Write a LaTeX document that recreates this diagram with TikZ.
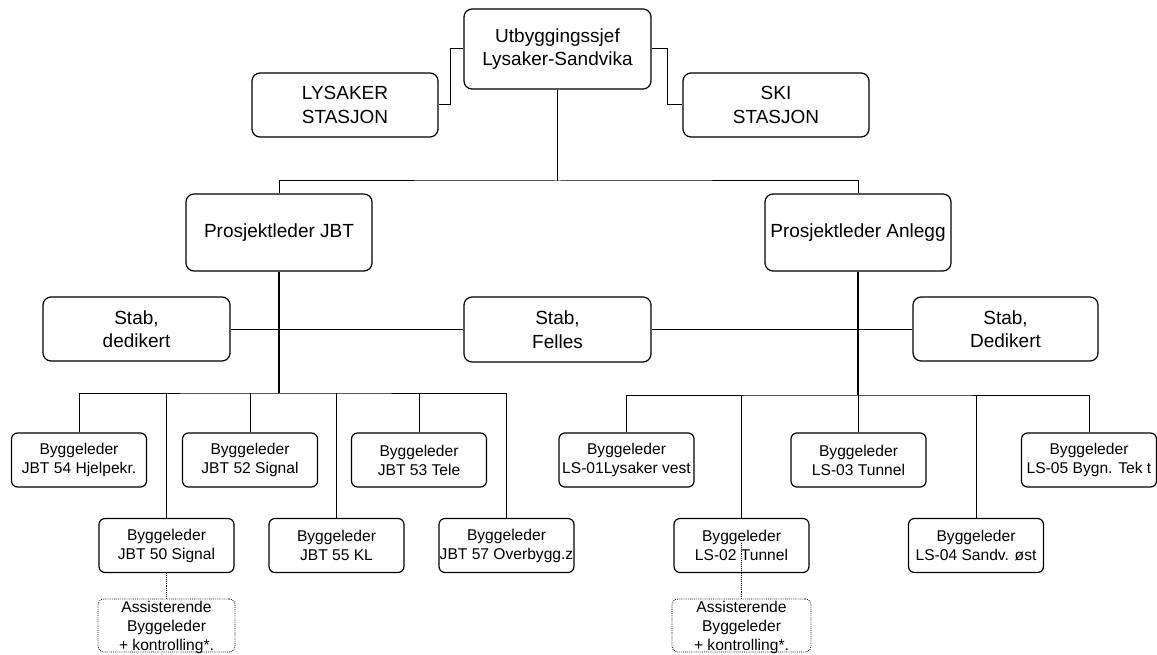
\documentclass[tikz,border=0pt]{standalone}
\usepackage{fontspec}
\setmainfont{Liberation Sans}
\begin{document}
\begin{tikzpicture}[x=1pt,y=-1pt,
  bigtext/.style={font=\fontsize{19}{23.5}\selectfont},
  smalltext/.style={font=\fontsize{15.6}{19}\selectfont},
  box/.style={draw, line width=1.2pt, rounded corners=8pt, inner sep=0pt, align=center},
  bigbox/.style={box, bigtext, minimum width=187pt},
  leader/.style={box, smalltext, rounded corners=6pt, minimum width=135pt, minimum height=54pt},
  helper/.style={box, smalltext, line width=0.8pt, dash pattern=on 0.8pt off 1.1pt, rounded corners=6pt, minimum height=53pt, text depth=0pt},
  link/.style={line width=1pt},
  trunk/.style={line width=1.8pt},
  dotlink/.style={line width=0.8pt, dash pattern=on 0.8pt off 1.1pt}]
\useasboundingbox (0,0) rectangle (1157,655);

% top level
\node[bigbox, minimum height=80pt] (chief) at (557.5,49) {Utbyggingssjef\\Lysaker-Sandvika};
\node[bigbox, minimum width=186pt, minimum height=64pt] (lys) at (345,105) {LYSAKER\\STASJON};
\node[bigbox, minimum width=186pt, minimum height=64pt] (ski) at (776,105) {SKI\\STASJON};

% project leaders
\node[bigbox, minimum width=186pt, minimum height=77pt] (pjbt) at (279,232.5) {Prosjektleder JBT};
\node[bigbox, minimum width=186pt, minimum height=77pt] (pan) at (858,232.5) {Prosjektleder Anlegg};

% staff
\node[bigbox, minimum height=64pt] (sd) at (136.5,329) {Stab,\\dedikert};
\node[bigbox, minimum height=65pt] (sf) at (557.5,329.5) {Stab,\\Felles};
\node[bigbox, minimum width=185pt, minimum height=64pt] (sD) at (1005.5,329) {Stab,\\Dedikert};

% JBT site leaders
\node[leader] (j54) at (79,460) {Byggeleder\\JBT 54 Hjelpekr.};
\node[leader] (j52) at (250,460) {Byggeleder\\JBT 52 Signal};
\node[leader] (j53) at (419,460) {Byggeleder\\JBT 53 Tele};
\node[leader] (j50) at (166.5,545.5) {Byggeleder\\JBT 50 Signal};
\node[leader] (j55) at (336.5,545.5) {Byggeleder\\JBT 55 KL};
\node[leader] (j57) at (506.5,545.5) {Byggeleder\\JBT 57 Overbygg.z};

% construction site leaders
\node[leader] (l01) at (626.5,460) {Byggeleder\\LS-01Lysaker vest};
\node[leader] (l03) at (858.5,460) {Byggeleder\\LS-03 Tunnel};
\node[leader] (l05) at (1089,460) {Byggeleder\\LS-05 Bygn. Tek t};
\node[leader] (l02) at (741.5,545.5) {Byggeleder\\LS-02 Tunnel};
\node[leader] (l04) at (976,545.5) {Byggeleder\\LS-04 Sandv. øst};

% assistants
\node[helper, minimum width=137pt] (a1) at (166.5,625.5) {Assisterende\\Byggeleder\\+ kontrolling*.};
\node[helper, minimum width=139pt] (a2) at (741.5,625.5) {Assisterende\\Byggeleder\\+ kontrolling*.};

% junction points
\coordinate (hub) at (557.5,181);
\coordinate (jbus) at (279,393);
\coordinate (abus) at (858,395);

% connectors, top
\draw[link] (chief.west) -- ++(-13,0) |- (lys.east);
\draw[link] (chief.east) -- ++(16,0) |- (ski.west);
\draw[line width=1.2pt] (chief.south) -- (hub);
\draw[link] (pjbt.north) |- (hub) -| (pan.north);

% trunks and staff
\draw[trunk] (pjbt.south) -- (jbus);
\draw[trunk] (pan.south) -- (abus);
\draw[link] (sd.east) -- (sd.east -| pjbt.south);
\draw[link] (sf.west) -- (sf.west -| pjbt.south);
\draw[link] (sf.east) -- (sf.east -| pan.south);
\draw[link] (sD.west) -- (sD.west -| pan.south);

% JBT bus
\draw[link] (j54.north) |- (jbus) -| (j57.north);
\draw[link] (j50.north) -- (j50.north |- jbus);
\draw[link] (j52.north) -- (j52.north |- jbus);
\draw[link] (j55.north) -- (j55.north |- jbus);
\draw[link] (j53.north) -- (j53.north |- jbus);

% construction bus
\draw[link] (l01.north) |- (abus) -| (l05.north);
\draw[link] (l02.north) -- (l02.north |- abus);
\draw[link] (l03.north) -- (l03.north |- abus);
\draw[link] (l04.north) -- (l04.north |- abus);

% assistants
\draw[dotlink] (j50.south) -- (a1.north);
\draw[dotlink] ([yshift=2.5pt]l02.center) -- (a2.north);
\end{tikzpicture}
\end{document}
